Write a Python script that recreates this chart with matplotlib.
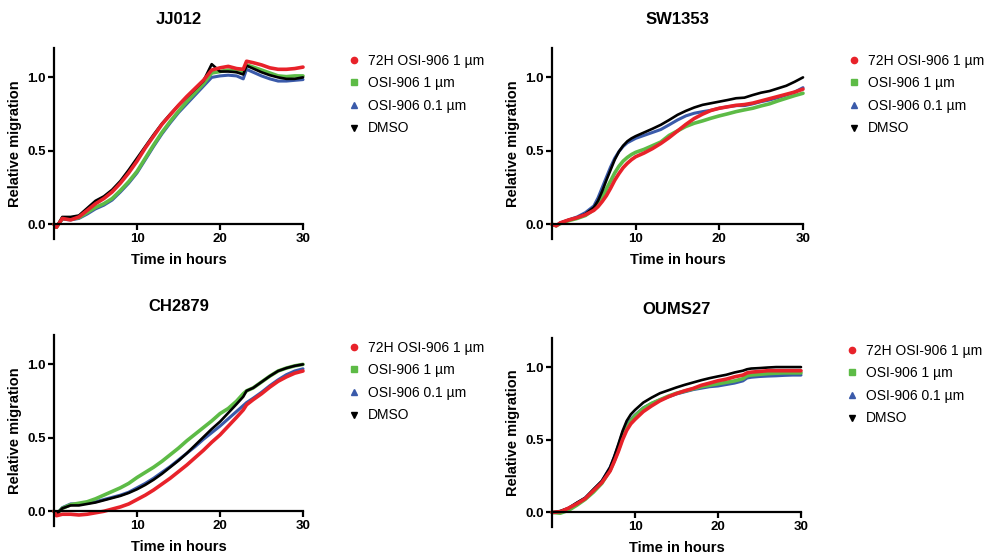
import matplotlib
matplotlib.use("Agg")
import matplotlib.pyplot as plt
from matplotlib.lines import Line2D

plt.rcParams["font.family"] = ["Liberation Sans", "DejaVu Sans"]

LABELS = ["72H OSI-906 1 µm", "OSI-906 1 µm", "OSI-906 0.1 µm", "DMSO"]
COLORS = ["#E8222A", "#5DBB46", "#3A5AAA", "#000000"]
MARKERS = ["o", "s", "^", "v"]

# time axes (hours)
TIME_A = [0, 0.3, 1, 2, 3, 4, 5, 6, 7, 8, 9, 10, 11, 12, 13, 14, 15, 16, 17, 18,
          19, 20, 21, 22, 22.8, 23.2, 24, 25, 26, 27, 28, 29, 30]
TIME_B = [0, 0.5, 1, 2, 3, 4, 5, 5.5, 6, 6.5, 7, 7.5, 8, 8.5, 9, 9.5,
          10, 11, 12, 13, 14, 15, 16, 17, 18, 19, 20, 21, 22, 23, 24, 25, 26, 27, 28, 29, 30]
TIME_C = [0, 1, 2, 3, 4, 5, 6, 7, 7.5, 8, 8.5, 9, 9.5,
          10, 11, 12, 13, 14, 15, 16, 17, 18, 19, 20, 21, 22, 23, 23.5, 24, 25, 26, 27, 28, 29, 30]

# JJ012
JJ012_72H = [0, -0.02, 0.04, 0.03, 0.05, 0.095, 0.14, 0.175, 0.22, 0.28, 0.35, 0.43, 0.52,
             0.60, 0.68, 0.745, 0.81, 0.87, 0.925, 0.98, 1.05, 1.065, 1.075, 1.06, 1.055,
             1.11, 1.10, 1.085, 1.065, 1.055, 1.055, 1.06, 1.07]
JJ012_OSI1 = [0, -0.02, 0.04, 0.035, 0.045, 0.08, 0.115, 0.14, 0.175, 0.23, 0.29, 0.36, 0.45,
              0.54, 0.625, 0.70, 0.77, 0.835, 0.895, 0.955, 1.03, 1.04, 1.05, 1.04, 1.035,
              1.085, 1.07, 1.05, 1.03, 1.01, 1.005, 1.01, 1.01]
JJ012_OSI01 = [0, -0.02, 0.035, 0.03, 0.04, 0.07, 0.105, 0.13, 0.165, 0.22, 0.28, 0.35, 0.44,
               0.53, 0.615, 0.69, 0.76, 0.82, 0.88, 0.94, 1.0, 1.01, 1.015, 1.01, 0.99,
               1.055, 1.035, 1.01, 0.99, 0.975, 0.975, 0.98, 0.985]
JJ012_DMSO = [0, -0.02, 0.05, 0.05, 0.06, 0.11, 0.16, 0.19, 0.235, 0.295, 0.37, 0.45, 0.53,
              0.61, 0.685, 0.75, 0.81, 0.865, 0.92, 0.975, 1.09, 1.04, 1.04, 1.035, 1.02,
              1.08, 1.06, 1.035, 1.015, 1.0, 0.99, 0.99, 1.0]

# SW1353
SW1353_72H = [0, -0.01, 0.01, 0.03, 0.045, 0.065,
              0.095, 0.12, 0.155, 0.195, 0.245, 0.30, 0.345, 0.385, 0.415, 0.44,
              0.46, 0.485, 0.515, 0.55, 0.59, 0.635, 0.68, 0.72, 0.75, 0.775, 0.79, 0.80,
              0.81, 0.815, 0.825, 0.84, 0.855, 0.87, 0.885, 0.90, 0.92]
SW1353_OSI1 = [0, -0.01, 0.005, 0.025, 0.04, 0.06,
               0.10, 0.14, 0.185, 0.24, 0.295, 0.35, 0.395, 0.43, 0.455, 0.475,
               0.49, 0.51, 0.535, 0.56, 0.605, 0.636, 0.666, 0.688, 0.704, 0.722, 0.738,
               0.752, 0.767, 0.779, 0.79, 0.806, 0.82, 0.84, 0.858, 0.876, 0.892]
SW1353_OSI01 = [0, -0.01, 0.01, 0.03, 0.05, 0.08,
                0.125, 0.18, 0.25, 0.32, 0.39, 0.45, 0.495, 0.53, 0.555, 0.57,
                0.585, 0.605, 0.625, 0.645, 0.677, 0.71, 0.738, 0.756, 0.767, 0.776, 0.79,
                0.80, 0.808, 0.808, 0.82, 0.835, 0.846, 0.862, 0.88, 0.90, 0.93]
SW1353_DMSO = [0, -0.01, 0.01, 0.03, 0.045, 0.07,
               0.115, 0.16, 0.225, 0.30, 0.37, 0.44, 0.495, 0.535, 0.565, 0.585,
               0.60, 0.625, 0.65, 0.677, 0.71, 0.745, 0.772, 0.795, 0.813, 0.824, 0.835,
               0.846, 0.858, 0.862, 0.88, 0.896, 0.907, 0.925, 0.943, 0.97, 1.0]

# CH2879
CH2879_72H = [0, -0.03, -0.02, -0.02, -0.025, -0.02, -0.01, 0.0, 0.015, 0.03, 0.05, 0.08, 0.11,
              0.145, 0.185, 0.225, 0.27, 0.315, 0.365, 0.415, 0.47, 0.52, 0.58, 0.64, 0.69,
              0.725, 0.76, 0.80, 0.845, 0.885, 0.915, 0.94, 0.955]
CH2879_OSI1 = [0, -0.02, 0.02, 0.045, 0.055, 0.065, 0.085, 0.11, 0.135, 0.16, 0.19, 0.23, 0.265,
               0.30, 0.34, 0.385, 0.43, 0.48, 0.525, 0.57, 0.615, 0.665, 0.70, 0.75, 0.80,
               0.82, 0.84, 0.88, 0.92, 0.955, 0.975, 0.99, 1.0]
CH2879_OSI01 = [0, -0.02, 0.025, 0.05, 0.05, 0.055, 0.065, 0.08, 0.095, 0.11, 0.13, 0.16, 0.19,
                0.225, 0.265, 0.305, 0.35, 0.395, 0.44, 0.49, 0.535, 0.58, 0.63, 0.68, 0.72,
                0.74, 0.77, 0.81, 0.855, 0.895, 0.93, 0.955, 0.97]
CH2879_DMSO = [0, -0.02, 0.02, 0.04, 0.04, 0.05, 0.06, 0.075, 0.09, 0.105, 0.125, 0.15, 0.18,
               0.215, 0.255, 0.30, 0.345, 0.395, 0.45, 0.505, 0.56, 0.61, 0.67, 0.73, 0.78,
               0.82, 0.84, 0.88, 0.92, 0.955, 0.975, 0.99, 1.0]

# OUMS27
OUMS27_72H = [0, 0.005, 0.03, 0.06, 0.095, 0.15, 0.205, 0.285, 0.35, 0.42, 0.50, 0.565, 0.61,
              0.64, 0.694, 0.733, 0.768, 0.795, 0.818, 0.837, 0.853, 0.875, 0.89, 0.906,
              0.917, 0.933, 0.945, 0.96, 0.965, 0.97, 0.975, 0.975, 0.975, 0.975, 0.975]
OUMS27_OSI1 = [0, -0.005, 0.015, 0.05, 0.09, 0.14, 0.20, 0.29, 0.355, 0.43, 0.515, 0.58, 0.63,
               0.665, 0.715, 0.75, 0.775, 0.80, 0.82, 0.835, 0.85, 0.865, 0.875, 0.885,
               0.895, 0.905, 0.92, 0.94, 0.945, 0.95, 0.955, 0.958, 0.96, 0.96, 0.96]
OUMS27_OSI01 = [0, 0.005, 0.03, 0.065, 0.10, 0.155, 0.215, 0.31, 0.38, 0.46, 0.545, 0.60, 0.64,
                0.67, 0.72, 0.75, 0.775, 0.795, 0.815, 0.83, 0.845, 0.855, 0.865, 0.87,
                0.88, 0.89, 0.905, 0.925, 0.93, 0.935, 0.938, 0.94, 0.943, 0.945, 0.945]
OUMS27_DMSO = [0, 0.01, 0.03, 0.067, 0.10, 0.16, 0.216, 0.31, 0.385, 0.47, 0.56, 0.63, 0.675,
               0.705, 0.756, 0.79, 0.82, 0.84, 0.86, 0.878, 0.894, 0.91, 0.924, 0.936,
               0.947, 0.963, 0.975, 0.985, 0.99, 0.993, 0.997, 1.0, 1.0, 1.0, 1.0]

PANELS = [
    ("JJ012", TIME_A, [JJ012_72H, JJ012_OSI1, JJ012_OSI01, JJ012_DMSO]),
    ("SW1353", TIME_B, [SW1353_72H, SW1353_OSI1, SW1353_OSI01, SW1353_DMSO]),
    ("CH2879", TIME_A, [CH2879_72H, CH2879_OSI1, CH2879_OSI01, CH2879_DMSO]),
    ("OUMS27", TIME_C, [OUMS27_72H, OUMS27_OSI1, OUMS27_OSI01, OUMS27_DMSO]),
]

# axes rectangles in figure fractions (left, bottom, width, height)
W, H = 988, 555
RECTS = [
    (54 / W, 1 - 239 / H, 249 / W, 191 / H),
    (552 / W, 1 - 239 / H, 251 / W, 191 / H),
    (54 / W, 1 - 526 / H, 249 / W, 191 / H),
    (552 / W, 1 - 527 / H, 249 / W, 189 / H),
]

# draw order and line widths: blue, green, black, red on top
DRAW_ORDER = [2, 1, 3, 0]
WIDTHS = [2.6, 2.6, 2.2, 1.9]


def style_axis(ax):
    for side in ["top", "right"]:
        ax.spines[side].set_visible(False)
    ax.spines["bottom"].set_position(("data", 0))
    ax.spines["left"].set_linewidth(1.6)
    ax.spines["bottom"].set_linewidth(1.6)
    ax.set_xlim(0, 30)
    ax.set_ylim(-0.1, 1.2)
    ax.set_xticks([10, 20, 30])
    ax.set_yticks([0.0, 0.5, 1.0])
    ax.set_yticklabels(["0.0", "0.5", "1.0"])
    ax.tick_params(axis="both", direction="out", length=4, width=1.6, pad=2, labelsize=9.5)
    for label in ax.get_xticklabels() + ax.get_yticklabels():
        label.set_fontweight("bold")


fig = plt.figure(figsize=(W / 100, H / 100), dpi=100)

for (title, time, series), rect in zip(PANELS, RECTS):
    ax = fig.add_axes(rect)
    for i in DRAW_ORDER:
        ax.plot(time, series[i], color=COLORS[i], linewidth=WIDTHS[i],
                solid_capstyle="round", solid_joinstyle="round", clip_on=False)
    style_axis(ax)
    ax.set_title(title, fontsize=12, fontweight="bold", pad=17)
    ax.set_xlabel("Time in hours", fontsize=10.5, fontweight="bold", labelpad=6)
    ax.set_ylabel("Relative migration", fontsize=10.5, fontweight="bold", labelpad=4)

    handles = [
        Line2D([], [], linestyle="none", marker=MARKERS[i], color=COLORS[i], markersize=4.5)
        for i in range(4)
    ]
    ax.legend(handles, LABELS, loc="upper left", bbox_to_anchor=(1.16, 1.0), frameon=False,
              fontsize=10, handlelength=0.8, handletextpad=0.6, labelspacing=0.62,
              borderaxespad=0)

fig.savefig("out.png", dpi=100)
